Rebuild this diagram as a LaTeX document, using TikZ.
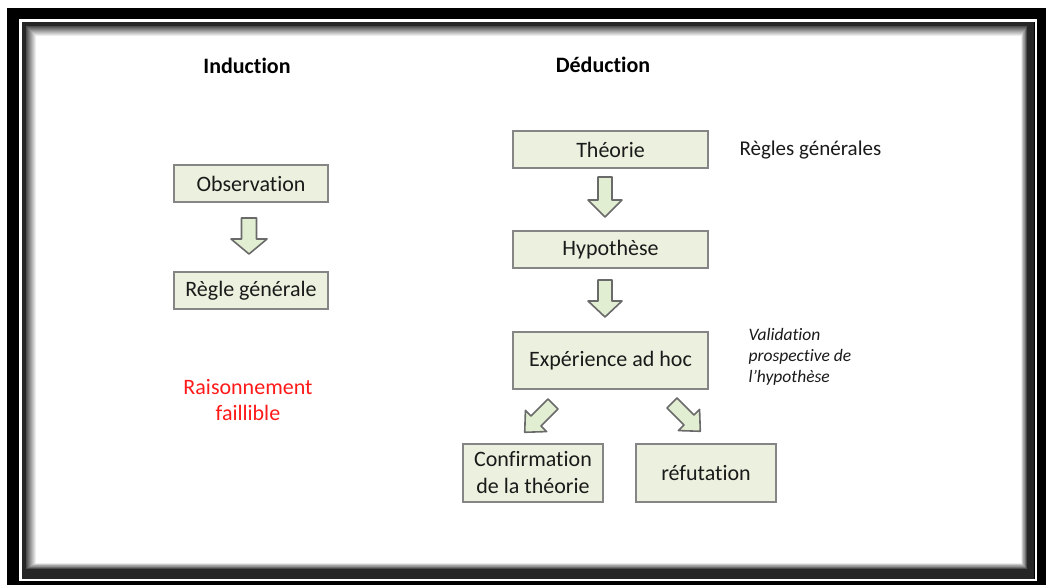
\documentclass[tikz,border=0pt]{standalone}
\usepackage{fontspec}
\setmainfont{Carlito}[Ligatures=NoCommon]
\definecolor{boxfill}{HTML}{EBF1DE}
\definecolor{boxline}{HTML}{858585}
\definecolor{arrowfill}{HTML}{E2EED2}
\definecolor{arrowline}{HTML}{6A6A6A}
\definecolor{ink}{HTML}{1A1A1A}
\definecolor{alert}{HTML}{FF1A1A}
\tikzset{
  stepbox/.style={draw=boxline, line width=1.8pt, fill=boxfill, text=ink,
    inner sep=0pt, align=center, font=\fontsize{22}{27}\selectfont},
  title/.style={font=\fontsize{22}{26}\selectfont\bfseries, text=black},
  note/.style={text=ink, font=\fontsize{21}{25}\selectfont},
  blockarrow/.style={draw=arrowline, line width=1.6pt, fill=arrowfill, line join=round},
}
% block arrow: #1 tail centre, #2 rotation, #3 length, #4 head length, #5 shaft half width, #6 head half width
\newcommand{\blockarr}[6]{%
  \draw[blockarrow, shift={(#1)}, rotate=#2]
    (-#5,0) -- (#5,0) -- (#5,#3-#4) -- (#6,#3-#4) -- (0,#3)
    -- (-#6,#3-#4) -- (-#5,#3-#4) -- cycle;}
\begin{document}
\begin{tikzpicture}[x=1pt, y=-1pt]
\useasboundingbox (0,0) rectangle (1046,585);
% page frame
\fill[white] (0,0) rectangle (1046,585);
\fill[black] (7,8) rectangle (1046,585);
\draw[white, line width=2.4pt] (20.5,20.5) rectangle (1036,580);
\fill[black!85] (22,22) rectangle (1034,578.5);
\foreach \i in {0,...,9} {
  \pgfmathsetmacro{\shade}{70-7*\i}
  \fill[black!\shade] (26+\i*1.0,26+\i*1.0) rectangle (1027-\i*0.6,569-\i*0.6);
}
\fill[white] (36,36) rectangle (1021,563);

% column titles
\node[title] (ind) at (247,66) {Induction};
\node[title] (ded) at (603,65) {Déduction};

% induction column
\node[stepbox, minimum width=154pt, minimum height=37pt] (obs) at (251,183.5) {Observation};
\node[stepbox, minimum width=154pt, minimum height=37pt] (regle) at (251,290.5) {Règle générale};
\node[text=alert, align=center, font=\fontsize{22}{26}\selectfont] (fail) at (248,400) {Raisonnement\\faillible};

% deduction column
\node[stepbox, minimum width=195pt, minimum height=37pt] (theo) at (610.5,149.5) {Théorie};
\node[stepbox, minimum width=195pt, minimum height=37pt] (hyp) at (610.5,249.5) {Hypothèse};
\node[stepbox, minimum width=195pt, minimum height=57pt] (exp) at (610.5,360.5) {Expérience ad hoc};
\node[stepbox, minimum width=140pt, minimum height=58pt] (conf) at (533,473) {Confirmation\\de la théorie};
\node[stepbox, minimum width=140pt, minimum height=58pt] (refut) at (706,473) {réfutation};

% side notes
\node[note, anchor=west] (regles) at (736,150) {Règles générales};
\node[text=ink, anchor=west, align=left, font=\fontsize{17.5}{21}\selectfont\itshape] (valid) at (745,357)
  {Validation\\prospective de\\l’hypothèse};

% block arrows between the steps
\blockarr{249,218}{0}{36}{15}{7.5}{18}
\blockarr{605,177}{0}{40}{17}{7}{17}
\blockarr{605,280}{0}{37}{16}{7}{17}
\blockarr{553,404}{-45}{40}{16}{7}{15}
\blockarr{672,403}{45}{40}{16}{7}{15}
\end{tikzpicture}
\end{document}
